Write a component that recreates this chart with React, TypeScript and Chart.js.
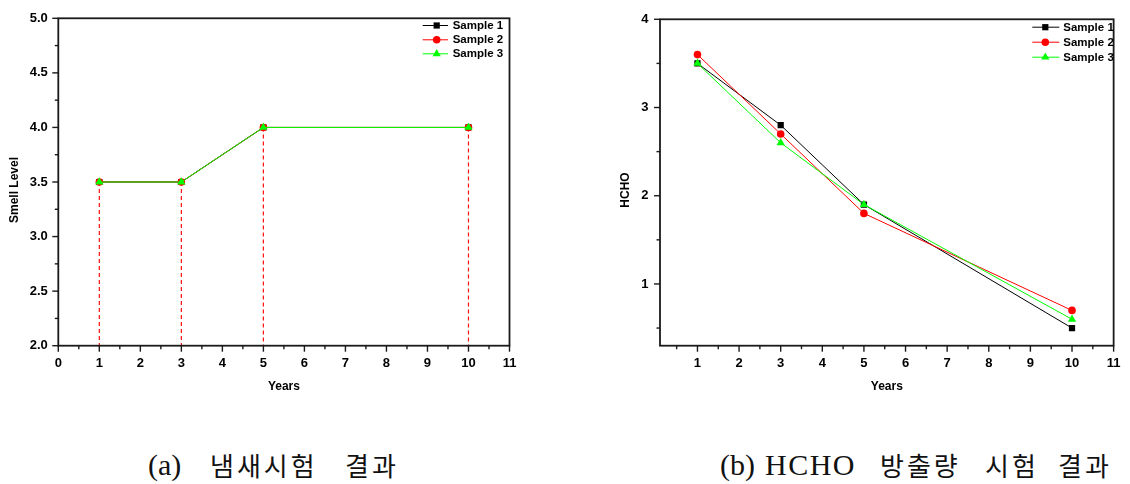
import React, { useEffect, useRef } from "react";
import { Chart, registerables } from "chart.js";

Chart.register(...registerables);

// ---------- data ----------
const years = [1, 3, 5, 10];
const seriesLabels = ["Sample 1", "Sample 2", "Sample 3"];

const smellSample1 = [3.5, 3.5, 4.0, 4.0];
const smellSample2 = [3.5, 3.5, 4.0, 4.0];
const smellSample3 = [3.5, 3.5, 4.0, 4.0];

const hchoSample1 = [3.5, 2.8, 1.9, 0.5];
const hchoSample2 = [3.6, 2.7, 1.8, 0.7];
const hchoSample3 = [3.5, 2.6, 1.9, 0.6];

const smellXTicks = [0, 1, 2, 3, 4, 5, 6, 7, 8, 9, 10, 11];
const smellYTicks = [2.0, 2.5, 3.0, 3.5, 4.0, 4.5, 5.0];
const hchoXTicks = [1, 2, 3, 4, 5, 6, 7, 8, 9, 10, 11];
const hchoYTicks = [1, 2, 3, 4];

const smellXTitle = "Years";
const smellYTitle = "Smell Level";
const hchoXTitle = "Years";
const hchoYTitle = "HCHO";

const captionAWords = ["(a)", "냄새시험", "결과"];
const captionBWords = ["(b)", "HCHO", "방출량", "시험", "결과"];

// ---------- styles ----------
const colors = ["#000000", "#ff0000", "#00ff00"];
const pointStyles = ["rect", "circle", "triangle"];
const pointRadii = [4.4, 3.8, 4.8];
const FONT = '"Liberation Sans", Arial, sans-serif';

function drawMarker(ctx: CanvasRenderingContext2D, style: string, x: number, y: number, r: number, color: string) {
  ctx.save();
  ctx.fillStyle = color;
  ctx.beginPath();
  if (style === "rect") {
    const s = r * Math.SQRT1_2;
    ctx.rect(x - s, y - s, 2 * s, 2 * s);
  } else if (style === "circle") {
    ctx.arc(x, y, r, 0, Math.PI * 2);
  } else {
    const a = -Math.PI / 2;
    for (let k = 0; k < 3; k++) {
      const ang = a + (k * 2 * Math.PI) / 3;
      const px = x + Math.cos(ang) * r;
      const py = y + Math.sin(ang) * r;
      if (k === 0) ctx.moveTo(px, py);
      else ctx.lineTo(px, py);
    }
    ctx.closePath();
  }
  ctx.fill();
  ctx.restore();
}

function minorValues(min: number, max: number, step: number, majors: number[]) {
  const out: number[] = [];
  const start = Math.ceil(min / step - 1e-9);
  const end = Math.floor(max / step + 1e-9);
  for (let k = start; k <= end; k++) {
    const v = k * step;
    if (!majors.some((m) => Math.abs(m - v) < 1e-6)) out.push(v);
  }
  return out;
}

type DecorCfg = {
  xTitle: string;
  yTitle: string;
  yTitleX: number;
  yTitleY: number;
  xTitleY: number;
  xMajors: number[];
  yMajors: number[];
  xMinorStep: number;
  yMinorStep: number;
  legend: { x1: number; x2: number; mx: number; tx: number; rows: number[] };
  drop: boolean;
};

function makeDecor(cfg: DecorCfg) {
  return {
    id: "decor",
    beforeDatasetsDraw(chart: any) {
      if (!cfg.drop) return;
      const { ctx, chartArea } = chart;
      const x = chart.scales.x;
      const y = chart.scales.y;
      const ds = chart.data.datasets[1];
      ctx.save();
      ctx.strokeStyle = "#ff1010";
      ctx.lineWidth = 1.2;
      ctx.setLineDash([4, 3]);
      ds.data.forEach((p: any) => {
        const px = x.getPixelForValue(p.x);
        ctx.beginPath();
        ctx.moveTo(px, y.getPixelForValue(p.y));
        ctx.lineTo(px, chartArea.bottom);
        ctx.stroke();
      });
      ctx.restore();
    },
    afterDraw(chart: any) {
      const { ctx, chartArea } = chart;
      const x = chart.scales.x;
      const y = chart.scales.y;
      ctx.save();
      // frame
      ctx.strokeStyle = "#1a1a1a";
      ctx.lineWidth = 1.8;
      ctx.strokeRect(chartArea.left, chartArea.top, chartArea.right - chartArea.left, chartArea.bottom - chartArea.top);
      // ticks
      ctx.lineWidth = 1.4;
      const xMin = x.min, xMax = x.max, yMin = y.min, yMax = y.max;
      const tickX = (v: number, len: number) => {
        const px = x.getPixelForValue(v);
        ctx.beginPath();
        ctx.moveTo(px, chartArea.bottom);
        ctx.lineTo(px, chartArea.bottom + len);
        ctx.stroke();
      };
      const tickY = (v: number, len: number) => {
        const py = y.getPixelForValue(v);
        ctx.beginPath();
        ctx.moveTo(chartArea.left, py);
        ctx.lineTo(chartArea.left - len, py);
        ctx.stroke();
      };
      cfg.xMajors.forEach((v) => tickX(v, 6));
      minorValues(xMin, xMax, cfg.xMinorStep, cfg.xMajors).forEach((v) => tickX(v, 3.5));
      cfg.yMajors.forEach((v) => tickY(v, 6));
      minorValues(yMin, yMax, cfg.yMinorStep, cfg.yMajors).forEach((v) => tickY(v, 3.5));
      // titles
      ctx.fillStyle = "#000";
      ctx.font = `bold 12px ${FONT}`;
      ctx.textAlign = "center";
      ctx.textBaseline = "middle";
      ctx.fillText(cfg.xTitle, (chartArea.left + chartArea.right) / 2, cfg.xTitleY);
      ctx.save();
      ctx.translate(cfg.yTitleX, cfg.yTitleY);
      ctx.rotate(-Math.PI / 2);
      ctx.fillText(cfg.yTitle, 0, 0);
      ctx.restore();
      // legend
      const L = cfg.legend;
      chart.data.datasets.forEach((ds: any, i: number) => {
        const ry = L.rows[i];
        ctx.strokeStyle = colors[i];
        ctx.lineWidth = 1;
        ctx.beginPath();
        ctx.moveTo(L.x1, ry + 0.5);
        ctx.lineTo(L.x2, ry + 0.5);
        ctx.stroke();
        drawMarker(ctx, pointStyles[i], L.mx, ry + 0.5, pointRadii[i], colors[i]);
        ctx.fillStyle = "#000";
        ctx.font = `bold 11.5px ${FONT}`;
        ctx.textAlign = "left";
        ctx.textBaseline = "middle";
        ctx.fillText(ds.label, L.tx, ry + 1);
      });
      ctx.restore();
    },
  };
}

function buildDatasets(series: number[][]) {
  return series.map((vals, i) => ({
    label: seriesLabels[i],
    data: years.map((yr, j) => ({ x: yr, y: vals[j] })),
    borderColor: colors[i],
    backgroundColor: colors[i],
    borderWidth: 1,
    pointStyle: pointStyles[i],
    pointRadius: pointRadii[i],
    pointBorderWidth: 0,
    pointBackgroundColor: colors[i],
    tension: 0,
    order: 3 - i,
  }));
}

type PanelProps = {
  series: number[][];
  xTicks: number[];
  yTicks: number[];
  xMin: number;
  xMax: number;
  yMin: number;
  yMax: number;
  yAxisWidth: number;
  yLabelPad: number;
  padRight: number;
  yFmt: (v: number) => string;
  decor: DecorCfg;
  left: number;
};

const CW = 565;
const CH = 420;

function Panel(p: PanelProps) {
  const ref = useRef<HTMLCanvasElement | null>(null);
  useEffect(() => {
    if (!ref.current) return;
    const chart = new Chart(ref.current, {
      type: "line",
      data: { datasets: buildDatasets(p.series) as any },
      options: {
        animation: false,
        responsive: false,
        events: [],
        layout: { padding: { left: 0, right: p.padRight, top: 14, bottom: 0 } },
        plugins: { legend: { display: false }, tooltip: { enabled: false } },
        scales: {
          x: {
            type: "linear",
            min: p.xMin,
            max: p.xMax,
            grid: { display: false, drawTicks: false },
            border: { display: false },
            ticks: {
              color: "#000",
              padding: 9.5,
              maxRotation: 0,
              autoSkip: false,
              font: { family: FONT, weight: "bold", size: 13 },
              callback: (v: any) => String(v),
            },
            afterBuildTicks: (s: any) => {
              s.ticks = p.xTicks.map((v) => ({ value: v }));
            },
            afterFit: (s: any) => {
              s.height = CH - 345.7;
            },
          },
          y: {
            type: "linear",
            min: p.yMin,
            max: p.yMax,
            grid: { display: false, drawTicks: false },
            border: { display: false },
            ticks: {
              color: "#000",
              padding: p.yLabelPad,
              autoSkip: false,
              font: { family: FONT, weight: "bold", size: 13 },
              callback: (v: any) => p.yFmt(Number(v)),
            },
            afterBuildTicks: (s: any) => {
              s.ticks = p.yTicks.map((v) => ({ value: v }));
            },
            afterFit: (s: any) => {
              s.width = p.yAxisWidth;
            },
          },
        },
      } as any,
      plugins: [makeDecor(p.decor) as any],
    });
    return () => chart.destroy();
  }, []);
  return (
    <canvas
      ref={ref}
      width={CW}
      height={CH}
      style={{ position: "absolute", left: p.left, top: 0, width: CW, height: CH }}
    />
  );
}

const isHangul = (w: string) => /[\uac00-\ud7a3]/.test(w);

function Caption({ words, lefts }: { words: string[]; lefts: number[] }) {
  return (
    <>
      {words.map((w, i) => {
        const han = isHangul(w);
        const style: React.CSSProperties = {
          position: "absolute",
          left: lefts[i],
          top: han ? 450 : 449,
          fontFamily: han ? '"Noto Sans CJK KR", sans-serif' : '"Liberation Serif", serif',
          fontSize: han ? 26 : 30,
          fontWeight: 400,
          lineHeight: han ? "30px" : "32px",
          letterSpacing: han ? 3 : w === "HCHO" ? 1.5 : 0,
          whiteSpace: "pre",
          color: "#111",
        };
        return (
          <span key={i} style={style}>
            {w}
          </span>
        );
      })}
    </>
  );
}

export default function App() {
  return (
    <div style={{ position: "absolute", left: 0, top: 0, width: 1130, height: 484, background: "#fff", overflow: "hidden" }}>
      <Panel
        left={0}
        series={[smellSample1, smellSample2, smellSample3]}
        xTicks={smellXTicks}
        yTicks={smellYTicks}
        xMin={0}
        xMax={11}
        yMin={2}
        yMax={5}
        yAxisWidth={58.3}
        yLabelPad={10.5}
        padRight={CW - 509.5}
        yFmt={(v) => v.toFixed(1)}
        decor={{
          xTitle: smellXTitle,
          yTitle: smellYTitle,
          yTitleX: 14.5,
          yTitleY: 190,
          xTitleY: 387,
          xMajors: smellXTicks,
          yMajors: smellYTicks,
          xMinorStep: 0.5,
          yMinorStep: 0.25,
          legend: { x1: 422.7, x2: 448, mx: 436.7, tx: 452.7, rows: [25, 39.3, 53.3] },
          drop: true,
        }}
      />
      <Panel
        left={565}
        series={[hchoSample1, hchoSample2, hchoSample3]}
        xTicks={hchoXTicks}
        yTicks={hchoYTicks}
        xMin={0.1}
        xMax={11}
        yMin={0.3}
        yMax={4}
        yAxisWidth={95}
        yLabelPad={11.5}
        padRight={CW - 554.3}
        yFmt={(v) => String(v)}
        decor={{
          xTitle: hchoXTitle,
          yTitle: hchoYTitle,
          yTitleX: 61,
          yTitleY: 190,
          xTitleY: 387,
          xMajors: hchoXTicks,
          yMajors: hchoYTicks,
          xMinorStep: 0.5,
          yMinorStep: 0.5,
          legend: { x1: 467.3, x2: 494.3, mx: 480.3, tx: 498.3, rows: [26.7, 41.7, 56.7] },
          drop: false,
        }}
      />
      <Caption words={captionAWords} lefts={[148, 210, 345]} />
      <Caption words={captionBWords} lefts={[720, 765, 880, 985, 1058]} />
    </div>
  );
}
